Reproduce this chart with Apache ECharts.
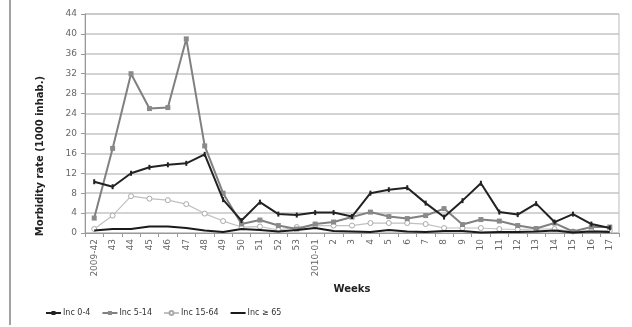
<!DOCTYPE html>
<html><head><meta charset="utf-8">
<script src="https://cdn.jsdelivr.net/npm/echarts@6/dist/echarts.min.js"></script>
<style>html,body{margin:0;padding:0;background:#fff}#c{width:632px;height:327px}</style>
</head><body><div id="c"></div>
<script>
const categories = ['2009-42','43','44','45','46','47','48','49','50','51','52','53','2010-01','2','3','4','5','6','7','8','9','10','11','12','13','14','15','16','17'];
const inc0_4   = [10.3,9.3,12,13.2,13.7,14,15.8,6.7,2.5,6.2,3.8,3.6,4.1,4.1,3.3,8.0,8.7,9.1,6.0,3.2,6.5,10,4.2,3.7,5.9,2.2,3.8,1.8,1.0];
const inc5_14  = [3,17,32,25,25.2,39,17.5,8,1.8,2.6,1.5,0.8,1.8,2.2,3.2,4.2,3.3,2.9,3.5,4.9,1.7,2.7,2.4,1.5,0.9,2.0,0.3,1.2,1.2];
const inc15_64 = [0.8,3.5,7.4,6.9,6.6,5.8,3.9,2.4,1.2,1.3,0.6,1.2,1.5,1.5,1.5,2.0,2.0,2.0,1.8,1.0,1.0,1.0,0.8,0.7,0.8,0.8,0.3,0.5,0.5];
const inc65    = [0.5,0.8,0.8,1.3,1.3,1.0,0.5,0.2,0.8,0.6,0.3,0.6,1.0,0.4,0.3,0.2,0.6,0.3,0.2,0.4,0.4,0.1,0.2,0.2,0.3,0.5,0.1,0.3,0.2];
const seriesNames = ['Inc 0-4','Inc 5-14','Inc 15-64','Inc \u2265 65'];
const yTitle = 'Morbidity rate (1000 inhab.)';

const chart = echarts.init(document.getElementById('c'), null, {renderer:'canvas'});
const font = 'DejaVu Sans';
chart.setOption({
  animation:false,
  backgroundColor:'#fff',
  textStyle:{fontFamily:font},
  grid:{left:85,right:13,top:14,bottom:94,show:true,borderColor:'#bbb',borderWidth:1,backgroundColor:'transparent'},
  graphic:[
    {type:'line',shape:{x1:10,y1:0,x2:10,y2:325},style:{stroke:'#444',lineWidth:1}},
    {type:'text',x:40,y:156,rotation:Math.PI/2,
      style:{text:yTitle,font:'bold 10px "DejaVu Sans"',fill:'#222',align:'center',verticalAlign:'middle'}}
  ],
  legend:{left:40,top:304,itemWidth:15,itemHeight:5,itemGap:11,
    textStyle:{fontSize:8,color:'#333',fontFamily:font,padding:[0,0,0,-3]},
    data:[seriesNames[0],seriesNames[1],seriesNames[2],{name:seriesNames[3],itemStyle:{opacity:0}}]},
  xAxis:{type:'category',data:categories,boundaryGap:true,
    name:'Weeks',nameLocation:'middle',nameGap:46,
    nameTextStyle:{fontSize:10,fontWeight:'bold',color:'#222'},
    axisLine:{lineStyle:{color:'#999'}},
    axisTick:{show:true,lineStyle:{color:'#999'},length:4},
    axisLabel:{rotate:90,fontSize:9,color:'#666',margin:6,interval:0}},
  yAxis:{type:'value',min:0,max:44,interval:4,
    axisLine:{show:true,lineStyle:{color:'#999'}},
    axisTick:{show:true,lineStyle:{color:'#999'},length:4},
    axisLabel:{fontSize:9,color:'#666',margin:8},
    splitLine:{lineStyle:{color:'#c4c4c4',width:1.5}}},
  series:[
    {name:seriesNames[0],type:'line',data:inc0_4,symbol:'rect',symbolSize:[2,5],
      lineStyle:{color:'#222',width:2},itemStyle:{color:'#222'},z:5},
    {name:seriesNames[1],type:'line',data:inc5_14,symbol:'rect',symbolSize:5,
      lineStyle:{color:'#808080',width:2},itemStyle:{color:'#8a8a8a'},z:4},
    {name:seriesNames[2],type:'line',data:inc15_64,symbol:'circle',symbolSize:5,
      lineStyle:{color:'#c0c0c0',width:1.2},itemStyle:{color:'#fff',borderColor:'#aaa',borderWidth:1},z:3},
    {name:seriesNames[3],type:'line',data:inc65,symbol:'none',
      lineStyle:{color:'#1a1a1a',width:2},itemStyle:{color:'#1a1a1a'},z:6}
  ]
});
</script></body></html>
